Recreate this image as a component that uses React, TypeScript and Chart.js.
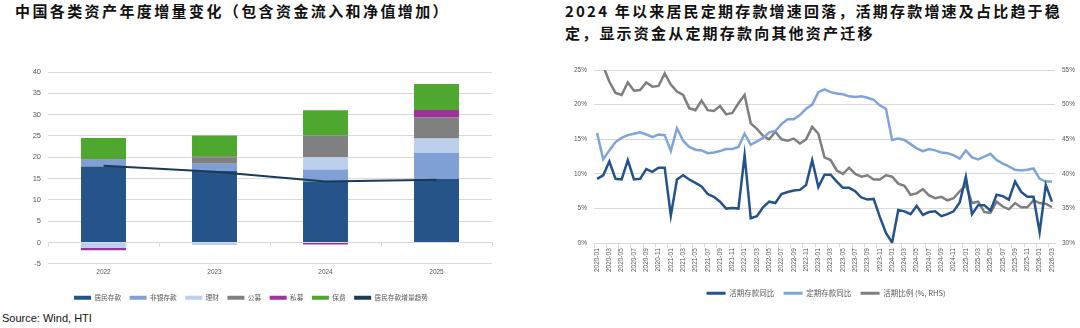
import React, { useEffect, useRef } from "react";
import { Chart, registerables } from "chart.js";

Chart.register(...registerables);

// ---------------- Left chart data ----------------
const years = ["2022", "2023", "2024", "2025"];
const householdDeposits = [17.8, 16.8, 14.3, 14.9];
const nonBankDeposits = [1.6, 1.7, 2.8, 6.1];
const wealthProducts = [-1.3, -0.6, 2.9, 3.4];
const mutualFunds = [0.2, 1.5, 5.1, 4.9];
const privateFunds = [-0.5, 0.1, -0.5, 1.8];
const insurancePremiums = [4.9, 5.0, 5.9, 6.1];
const depositTrend = [18.0, 16.6, 14.3, 14.7];

// ---------------- Right chart data ----------------
const months = [
  "2020-01", "2020-02", "2020-03", "2020-04", "2020-05", "2020-06", "2020-07", "2020-08", "2020-09", "2020-10", "2020-11", "2020-12",
  "2021-01", "2021-02", "2021-03", "2021-04", "2021-05", "2021-06", "2021-07", "2021-08", "2021-09", "2021-10", "2021-11", "2021-12",
  "2022-01", "2022-02", "2022-03", "2022-04", "2022-05", "2022-06", "2022-07", "2022-08", "2022-09", "2022-10", "2022-11", "2022-12",
  "2023-01", "2023-02", "2023-03", "2023-04", "2023-05", "2023-06", "2023-07", "2023-08", "2023-09", "2023-10", "2023-11", "2023-12",
  "2024-01", "2024-02", "2024-03", "2024-04", "2024-05", "2024-06", "2024-07", "2024-08", "2024-09", "2024-10", "2024-11", "2024-12",
  "2025-01", "2025-02", "2025-03", "2025-04", "2025-05", "2025-06", "2025-07", "2025-08", "2025-09", "2025-10", "2025-11", "2025-12",
  "2026-01", "2026-02", "2026-03",
];
const demandDepositYoY = [
  9.3, 9.8, 11.8, 9.3, 9.2, 12.0, 9.2, 9.3, 10.7, 10.3, 10.9, 10.9,
  4.0, 9.2, 9.8, 9.2, 8.7, 8.2, 7.1, 6.7, 6.0, 5.0, 5.1, 5.0,
  12.7, 3.6, 3.9, 5.2, 6.0, 5.8, 7.1, 7.4, 7.6, 7.7, 8.4, 12.0,
  8.1, 9.9, 9.9, 8.9, 8.0, 8.0, 7.5, 6.6, 6.3, 6.4, 3.8, 1.5,
  0.1, 4.8, 4.6, 4.2, 5.4, 4.1, 4.5, 4.6, 3.9, 4.2, 4.6, 5.9,
  9.6, 4.2, 5.5, 5.5, 4.7, 7.0, 6.8, 6.3, 8.9, 7.4, 6.7, 6.7,
  1.6, 8.4, 6.0,
];
const timeDepositYoY = [
  15.9, 12.1, 13.4, 14.6, 15.2, 15.6, 15.8, 16.0, 15.7, 15.3, 15.7, 15.6,
  13.3, 16.6, 14.8, 13.9, 13.5, 13.4, 13.0, 13.1, 13.3, 13.6, 13.6, 13.9,
  15.8, 14.2, 14.7, 15.2, 16.0, 16.2, 17.2, 17.9, 17.9, 18.5, 19.4, 20.0,
  21.8, 22.2, 21.8, 21.6, 21.5, 21.2, 21.1, 21.2, 21.0, 20.7, 19.9, 19.4,
  14.9, 15.1, 14.9, 14.3, 13.7, 13.3, 13.6, 13.4, 13.1, 13.0, 12.7, 12.2,
  13.4, 12.4, 12.1, 12.5, 12.9, 12.0, 11.5, 11.1, 10.6, 10.5, 10.6, 10.8,
  9.3, 8.9, 8.9,
];
const demandShareRHS = [
  56.5, 55.6, 53.3, 51.7, 51.4, 53.2, 52.0, 52.1, 53.2, 52.6, 52.7, 54.5,
  52.9, 51.9, 51.4, 49.5, 49.2, 50.6, 49.2, 49.1, 49.8, 48.6, 48.8, 50.2,
  51.4, 47.3, 46.5, 45.5, 45.0, 46.1, 45.0, 44.8, 45.1, 44.4, 45.0, 46.8,
  45.8, 42.4, 42.0, 40.5, 40.0, 40.9, 40.0, 39.6, 39.8, 39.2, 39.2, 39.8,
  39.6, 38.6, 38.3, 37.0, 37.2, 37.8, 36.9, 36.5, 36.7, 36.2, 36.5, 37.5,
  38.4, 35.8, 36.0, 34.5, 34.4, 36.0, 35.3, 34.9, 35.8, 35.2, 35.2, 36.2,
  35.8, 35.7, 35.2,
];

const TICK_FONT = "'Liberation Sans', Arial, sans-serif";
const CJK_FONT = "'Noto Sans CJK SC', 'Noto Sans', sans-serif";
const GRID = "#D9D9D9";
const TEXT = "#595959";

export default function App() {
  const leftRef = useRef<HTMLCanvasElement>(null);
  const rightRef = useRef<HTMLCanvasElement>(null);

  useEffect(() => {
    const flatLegend = (chart: any) =>
      Chart.defaults.plugins.legend.labels
        .generateLabels(chart)
        .map((l: any) => ({ ...l, lineWidth: 0, fillStyle: l.strokeStyle && l.strokeStyle !== "rgba(0,0,0,0.1)" ? l.strokeStyle : l.fillStyle }));

    const zeroLineTicks = {
      id: "zeroLineTicks",
      beforeDatasetsDraw(chart: any) {
        const xs = chart.scales.x;
        const ys = chart.scales.y;
        const y0 = Math.round(ys.getPixelForValue(0)) + 0.5;
        const n = chart.data.labels.length;
        const ctx = chart.ctx;
        ctx.save();
        ctx.strokeStyle = GRID;
        ctx.lineWidth = 1;
        for (let k = 0; k <= n; k++) {
          const px = Math.round(xs.left + (xs.width * k) / n) + 0.5;
          ctx.beginPath();
          ctx.moveTo(px, y0);
          ctx.lineTo(px, y0 + 4);
          ctx.stroke();
        }
        ctx.restore();
      },
    };

    const bar = (label: string, data: number[], color: string) => ({
      type: "bar" as const,
      label,
      data,
      backgroundColor: color,
      borderColor: color,
      borderWidth: 0,
      stack: "assets",
      barPercentage: 0.405,
      categoryPercentage: 1,
      order: 1,
    });

    const left = new Chart(leftRef.current as HTMLCanvasElement, {
      type: "bar",
      data: {
        labels: years,
        datasets: [
          bar("居民存款", householdDeposits, "#24548A"),
          bar("非银存款", nonBankDeposits, "#7F9FD5"),
          bar("理财", wealthProducts, "#BDD0EB"),
          bar("公募", mutualFunds, "#808080"),
          bar("私募", privateFunds, "#A0309A"),
          bar("保费", insurancePremiums, "#4EA72E"),
          {
            type: "line" as const,
            label: "居民存款增量趋势",
            data: depositTrend,
            borderColor: "#1B3A57",
            backgroundColor: "#1B3A57",
            borderWidth: 2,
            pointRadius: 0,
            tension: 0,
            stack: "trend",
            order: 0,
          } as any,
        ],
      },
      options: {
        responsive: false,
        animation: false,
        devicePixelRatio: 1,
        layout: { padding: { top: 22, right: 48, left: 0, bottom: 0 } },
        plugins: {
          tooltip: { enabled: false },
          legend: {
            position: "bottom",
            labels: {
              boxWidth: 17,
              boxHeight: 4,
              padding: 8.5,
              color: TEXT,
              font: { family: CJK_FONT, size: 6.7 },
              sort: (a: any, b: any) => a.datasetIndex - b.datasetIndex,
              generateLabels: flatLegend,
            },
          },
        },
        scales: {
          x: {
            stacked: true,
            grid: { display: false, drawTicks: false },
            border: { display: false },
            ticks: { color: TEXT, font: { family: TICK_FONT, size: 6.5 }, padding: 5 },
            afterFit: (s: any) => {
              s.height = 22;
            },
          },
          y: {
            stacked: true,
            min: -5,
            max: 40,
            ticks: { stepSize: 5, color: TEXT, font: { family: TICK_FONT, size: 7.5 }, padding: 7 },
            grid: { color: GRID, drawTicks: false },
            border: { display: false },
            afterFit: (s: any) => {
              s.width = 38;
            },
          },
        },
      } as any,
      plugins: [zeroLineTicks],
    });

    const lineDs = (label: string, data: number[], color: string, axis: string) => ({
      label,
      data,
      borderColor: color,
      backgroundColor: color,
      borderWidth: 2.5,
      pointRadius: 0,
      tension: 0,
      yAxisID: axis,
      clip: 0,
    });

    const right = new Chart(rightRef.current as HTMLCanvasElement, {
      type: "line",
      data: {
        labels: months,
        datasets: [
          lineDs("活期存款同比", demandDepositYoY, "#24528C", "y"),
          lineDs("定期存款同比", timeDepositYoY, "#7FA4DA", "y"),
          lineDs("活期比例 (%, RHS)", demandShareRHS, "#7F7F7F", "y1"),
        ] as any,
      },
      options: {
        responsive: false,
        animation: false,
        devicePixelRatio: 1,
        layout: { padding: { top: 20, right: 0, left: 0, bottom: 0 } },
        plugins: {
          tooltip: { enabled: false },
          legend: {
            position: "bottom",
            labels: {
              boxWidth: 19,
              boxHeight: 3,
              padding: 9.25,
              color: TEXT,
              font: { family: CJK_FONT, size: 7.5 },
              generateLabels: flatLegend,
            },
          },
        },
        scales: {
          x: {
            type: "category",
            offset: true,
            grid: {
              display: true,
              drawOnChartArea: false,
              drawTicks: true,
              tickLength: 4,
              offset: true,
              color: (c: any) => (c.index % 2 === 0 ? GRID : "rgba(0,0,0,0)"),
            },
            border: { display: true, color: GRID },
            ticks: {
              autoSkip: false,
              minRotation: 90,
              maxRotation: 90,
              padding: 1,
              color: TEXT,
              font: { family: TICK_FONT, size: 6.5 },
              callback: (_v: any, i: number) => (i % 2 === 0 ? months[i] : ""),
            },
            afterFit: (s: any) => {
              s.height = 37;
            },
          },
          y: {
            position: "left",
            min: 0,
            max: 25,
            ticks: {
              stepSize: 5,
              padding: 7,
              color: TEXT,
              font: { family: TICK_FONT, size: 6.5 },
              callback: (v: any) => v + "%",
            },
            grid: { color: GRID, drawTicks: false },
            border: { display: false },
            afterFit: (s: any) => {
              s.width = 22;
            },
          },
          y1: {
            position: "right",
            min: 30,
            max: 55,
            ticks: {
              stepSize: 5,
              padding: 7,
              color: TEXT,
              font: { family: TICK_FONT, size: 6.5 },
              callback: (v: any) => v + "%",
            },
            grid: { drawOnChartArea: false, drawTicks: false },
            border: { display: false },
            afterFit: (s: any) => {
              s.width = 25;
            },
          },
        },
      } as any,
    });

    return () => {
      left.destroy();
      right.destroy();
    };
  }, []);

  const titleStyle: React.CSSProperties = {
    position: "absolute",
    top: 0,
    fontFamily: CJK_FONT,
    fontWeight: 700,
    fontSize: 15,
    lineHeight: "21.7px",
    color: "#111",
    whiteSpace: "nowrap",
  };

  return (
    <div
      style={{
        position: "fixed",
        left: 0,
        top: 0,
        width: 1080,
        height: 328,
        background: "#ffffff",
        overflow: "hidden",
      }}
    >
      <div style={{ ...titleStyle, left: 15, letterSpacing: "2.4px" }}>
        中国各类资产年度增量变化（包含资金流入和净值增加）
      </div>
      <div style={{ ...titleStyle, left: 565, letterSpacing: "2.2px" }}>
        2024 年以来居民定期存款增速回落，活期存款增速及占比趋于稳
        <br />
        定，显示资金从定期存款向其他资产迁移
      </div>
      <canvas
        ref={leftRef}
        width={530}
        height={261}
        style={{ position: "absolute", left: 10, top: 50, display: "block" }}
      />
      <canvas
        ref={rightRef}
        width={508}
        height={257}
        style={{ position: "absolute", left: 572, top: 50, display: "block" }}
      />
      <div
        style={{
          position: "absolute",
          left: 2,
          top: 312,
          fontFamily: "'Liberation Sans', Arial, sans-serif",
          fontSize: 11,
          lineHeight: "12px",
          color: "#111",
          whiteSpace: "nowrap",
        }}
      >
        Source: Wind, HTI
      </div>
    </div>
  );
}
